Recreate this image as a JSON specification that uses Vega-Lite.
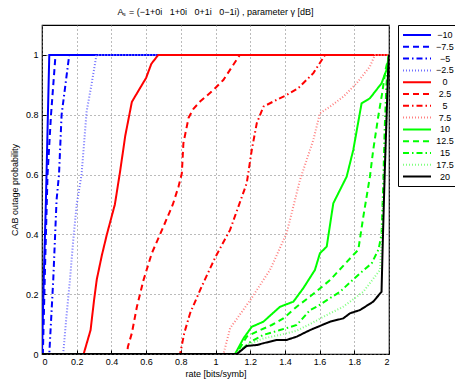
{
  "$schema": "https://vega.github.io/schema/vega-lite/v6.json",
  "width": 347,
  "height": 329,
  "autosize": {"type": "none"},
  "padding": {"left": 42, "top": 25, "right": 66, "bottom": 29},
  "background": "white",
  "title": {"text": "Aₛ = (−1+0i\u00a0\u00a0 1+0i\u00a0\u00a0 0+1i\u00a0\u00a0 0−1i) , parameter γ [dB]", "fontSize": 9, "font": "Liberation Sans", "fontWeight": "normal", "offset": 8, "anchor": "middle", "color": "black"},
  "config": {"view": {"stroke": "black", "strokeWidth": 1.2}, "font": "Liberation Sans"},
  "data": {"values": [
    {"g":"−10","x":0,"y":0},{"g":"−10","x":0.01,"y":0.25},{"g":"−10","x":0.022,"y":0.5},{"g":"−10","x":0.032,"y":0.75},{"g":"−10","x":0.042,"y":1},{"g":"−10","x":2,"y":1},
    {"g":"−7.5","x":0,"y":0},{"g":"−7.5","x":0.005,"y":0},{"g":"−7.5","x":0.018,"y":0.3},{"g":"−7.5","x":0.032,"y":0.6},{"g":"−7.5","x":0.052,"y":0.8},{"g":"−7.5","x":0.078,"y":1},{"g":"−7.5","x":2,"y":1},
    {"g":"−5","x":0,"y":0},{"g":"−5","x":0.042,"y":0},{"g":"−5","x":0.065,"y":0.25},{"g":"−5","x":0.084,"y":0.515},{"g":"−5","x":0.098,"y":0.6},{"g":"−5","x":0.113,"y":0.8},{"g":"−5","x":0.157,"y":1},{"g":"−5","x":2,"y":1},
    {"g":"−2.5","x":0,"y":0},{"g":"−2.5","x":0.122,"y":0},{"g":"−2.5","x":0.14,"y":0.12},{"g":"−2.5","x":0.161,"y":0.247},{"g":"−2.5","x":0.18,"y":0.38},{"g":"−2.5","x":0.2,"y":0.5},{"g":"−2.5","x":0.228,"y":0.6},{"g":"−2.5","x":0.257,"y":0.81},{"g":"−2.5","x":0.285,"y":0.9},{"g":"−2.5","x":0.314,"y":1},{"g":"−2.5","x":2,"y":1},
    {"g":"0","x":0,"y":0},{"g":"0","x":0.24,"y":0},{"g":"0","x":0.28,"y":0.08},{"g":"0","x":0.3,"y":0.18},{"g":"0","x":0.316,"y":0.25},{"g":"0","x":0.345,"y":0.33},{"g":"0","x":0.374,"y":0.4},{"g":"0","x":0.42,"y":0.5},{"g":"0","x":0.45,"y":0.61},{"g":"0","x":0.48,"y":0.73},{"g":"0","x":0.518,"y":0.843},{"g":"0","x":0.566,"y":0.89},{"g":"0","x":0.6,"y":0.923},{"g":"0","x":0.63,"y":0.97},{"g":"0","x":0.67,"y":1},{"g":"0","x":2,"y":1},
    {"g":"2.5","x":0,"y":0},{"g":"2.5","x":0.49,"y":0},{"g":"2.5","x":0.495,"y":0.024},{"g":"2.5","x":0.518,"y":0.07},{"g":"2.5","x":0.547,"y":0.158},{"g":"2.5","x":0.585,"y":0.247},{"g":"2.5","x":0.633,"y":0.337},{"g":"2.5","x":0.7,"y":0.426},{"g":"2.5","x":0.754,"y":0.5},{"g":"2.5","x":0.787,"y":0.56},{"g":"2.5","x":0.806,"y":0.604},{"g":"2.5","x":0.815,"y":0.705},{"g":"2.5","x":0.845,"y":0.79},{"g":"2.5","x":0.873,"y":0.82},{"g":"2.5","x":0.911,"y":0.844},{"g":"2.5","x":0.988,"y":0.883},{"g":"2.5","x":1.045,"y":0.916},{"g":"2.5","x":1.14,"y":1},{"g":"2.5","x":2,"y":1},
    {"g":"5","x":0,"y":0},{"g":"5","x":0.796,"y":0},{"g":"5","x":0.82,"y":0.07},{"g":"5","x":0.854,"y":0.137},{"g":"5","x":0.92,"y":0.225},{"g":"5","x":1.0,"y":0.325},{"g":"5","x":1.084,"y":0.415},{"g":"5","x":1.132,"y":0.493},{"g":"5","x":1.18,"y":0.571},{"g":"5","x":1.209,"y":0.682},{"g":"5","x":1.238,"y":0.772},{"g":"5","x":1.276,"y":0.827},{"g":"5","x":1.333,"y":0.844},{"g":"5","x":1.41,"y":0.866},{"g":"5","x":1.477,"y":0.889},{"g":"5","x":1.564,"y":0.939},{"g":"5","x":1.631,"y":1},{"g":"5","x":2,"y":1},
    {"g":"7.5","x":0,"y":0},{"g":"7.5","x":1.046,"y":0},{"g":"7.5","x":1.084,"y":0.086},{"g":"7.5","x":1.2,"y":0.18},{"g":"7.5","x":1.314,"y":0.281},{"g":"7.5","x":1.41,"y":0.404},{"g":"7.5","x":1.487,"y":0.582},{"g":"7.5","x":1.564,"y":0.716},{"g":"7.5","x":1.602,"y":0.805},{"g":"7.5","x":1.66,"y":0.827},{"g":"7.5","x":1.736,"y":0.86},{"g":"7.5","x":1.813,"y":0.905},{"g":"7.5","x":1.89,"y":0.961},{"g":"7.5","x":1.919,"y":1},{"g":"7.5","x":2,"y":1},
    {"g":"10","x":0,"y":0},{"g":"10","x":1.113,"y":0},{"g":"10","x":1.161,"y":0.052},{"g":"10","x":1.209,"y":0.091},{"g":"10","x":1.276,"y":0.108},{"g":"10","x":1.372,"y":0.158},{"g":"10","x":1.449,"y":0.175},{"g":"10","x":1.506,"y":0.22},{"g":"10","x":1.573,"y":0.281},{"g":"10","x":1.602,"y":0.337},{"g":"10","x":1.641,"y":0.359},{"g":"10","x":1.679,"y":0.504},{"g":"10","x":1.756,"y":0.593},{"g":"10","x":1.794,"y":0.682},{"g":"10","x":1.842,"y":0.838},{"g":"10","x":1.89,"y":0.855},{"g":"10","x":1.957,"y":0.905},{"g":"10","x":1.986,"y":0.95},{"g":"10","x":2,"y":1},
    {"g":"12.5","x":0,"y":0},{"g":"12.5","x":1.12,"y":0},{"g":"12.5","x":1.18,"y":0.058},{"g":"12.5","x":1.238,"y":0.075},{"g":"12.5","x":1.324,"y":0.097},{"g":"12.5","x":1.391,"y":0.119},{"g":"12.5","x":1.468,"y":0.158},{"g":"12.5","x":1.545,"y":0.192},{"g":"12.5","x":1.66,"y":0.247},{"g":"12.5","x":1.794,"y":0.331},{"g":"12.5","x":1.823,"y":0.348},{"g":"12.5","x":1.852,"y":0.459},{"g":"12.5","x":1.89,"y":0.593},{"g":"12.5","x":1.909,"y":0.682},{"g":"12.5","x":1.938,"y":0.794},{"g":"12.5","x":1.96,"y":0.87},{"g":"12.5","x":1.98,"y":0.95},{"g":"12.5","x":2,"y":1},
    {"g":"15","x":0,"y":0},{"g":"15","x":1.12,"y":0},{"g":"15","x":1.2,"y":0.04},{"g":"15","x":1.276,"y":0.064},{"g":"15","x":1.372,"y":0.08},{"g":"15","x":1.468,"y":0.097},{"g":"15","x":1.545,"y":0.147},{"g":"15","x":1.583,"y":0.158},{"g":"15","x":1.717,"y":0.208},{"g":"15","x":1.833,"y":0.27},{"g":"15","x":1.9,"y":0.303},{"g":"15","x":1.94,"y":0.35},{"g":"15","x":1.957,"y":0.4},{"g":"15","x":1.967,"y":0.571},{"g":"15","x":1.975,"y":0.75},{"g":"15","x":1.985,"y":0.9},{"g":"15","x":2,"y":1},
    {"g":"17.5","x":0,"y":0},{"g":"17.5","x":1.12,"y":0},{"g":"17.5","x":1.18,"y":0.03},{"g":"17.5","x":1.276,"y":0.052},{"g":"17.5","x":1.372,"y":0.064},{"g":"17.5","x":1.468,"y":0.078},{"g":"17.5","x":1.545,"y":0.1},{"g":"17.5","x":1.64,"y":0.13},{"g":"17.5","x":1.736,"y":0.158},{"g":"17.5","x":1.852,"y":0.208},{"g":"17.5","x":1.948,"y":0.281},{"g":"17.5","x":1.96,"y":0.4},{"g":"17.5","x":1.975,"y":0.6},{"g":"17.5","x":1.99,"y":0.85},{"g":"17.5","x":2,"y":1},
    {"g":"20","x":0,"y":0},{"g":"20","x":1.123,"y":0},{"g":"20","x":1.18,"y":0.027},{"g":"20","x":1.238,"y":0.03},{"g":"20","x":1.276,"y":0.036},{"g":"20","x":1.353,"y":0.047},{"g":"20","x":1.41,"y":0.047},{"g":"20","x":1.468,"y":0.058},{"g":"20","x":1.545,"y":0.08},{"g":"20","x":1.66,"y":0.108},{"g":"20","x":1.736,"y":0.119},{"g":"20","x":1.775,"y":0.136},{"g":"20","x":1.833,"y":0.147},{"g":"20","x":1.909,"y":0.175},{"g":"20","x":1.957,"y":0.208},{"g":"20","x":1.963,"y":0.348},{"g":"20","x":1.975,"y":0.6},{"g":"20","x":1.995,"y":0.95},{"g":"20","x":2,"y":1}
  ]},
  "mark": {"type": "line", "clip": true},
  "encoding": {
    "x": {"field": "x", "type": "quantitative",
      "scale": {"domain": [0, 2], "nice": false, "zero": false},
      "axis": {"values": [0, 0.2, 0.4, 0.6, 0.8, 1, 1.2, 1.4, 1.6, 1.8, 2], "format": "~g", "title": "rate [bits/symb]",
        "titleFontSize": 9, "titleFontWeight": "normal", "titleColor": "black", "titlePadding": 3,
        "labelFontSize": 9, "labelColor": "black", "labelPadding": 7, "tickSize": -4, "tickColor": "black",
        "domain": false, "grid": true, "gridColor": "#777", "gridDash": [1, 3], "gridWidth": 1}},
    "y": {"field": "y", "type": "quantitative",
      "scale": {"domain": [0, 1.1], "nice": false, "zero": false},
      "axis": {"values": [0, 0.2, 0.4, 0.6, 0.8, 1], "format": "~g", "title": "CAB outage probability",
        "titleFontSize": 9, "titleFontWeight": "normal", "titleColor": "black", "titlePadding": 6,
        "labelFontSize": 9, "labelColor": "black", "labelPadding": 8, "tickSize": -4, "tickColor": "black",
        "domain": false, "grid": true, "gridColor": "#777", "gridDash": [1, 3], "gridWidth": 1}},
    "color": {"field": "g", "type": "ordinal",
      "scale": {"domain": ["−10","−7.5","−5","−2.5","0","2.5","5","7.5","10","12.5","15","17.5","20"],
        "range": ["#0000ff","#0000ff","#0000ff","#7070ff","#ff0000","#ff0000","#ff0000","#ff8080","#00ff00","#00ff00","#00ff00","#80ff80","#000000"]},
      "legend": {"orient": "none", "legendX": 356, "legendY": 0, "title": null, "strokeColor": "black", "fillColor": "white",
        "padding": 4, "symbolType": "M-2.8,0H2.8", "symbolSize": 100, "symbolOffset": 9, "labelFontSize": 9, "labelColor": "black", "rowPadding": 0.8,
        "labelAlign": "center", "labelOffset": 22}},
    "strokeDash": {"field": "g", "type": "ordinal",
      "scale": {"domain": ["−10","−7.5","−5","−2.5","0","2.5","5","7.5","10","12.5","15","17.5","20"],
        "range": [[1,0],[6,4],[6,3,1.5,3],[1,2],[1,0],[6,4],[6,3,1.5,3],[1,2],[1,0],[6,4],[6,3,1.5,3],[1,2],[1,0]]}},
    "strokeWidth": {"field": "g", "type": "ordinal",
      "scale": {"domain": ["−10","−7.5","−5","−2.5","0","2.5","5","7.5","10","12.5","15","17.5","20"],
        "range": [2,2,1.5,1,2,2,1.5,1,2,2,1.5,1,2]}}
  }
}
